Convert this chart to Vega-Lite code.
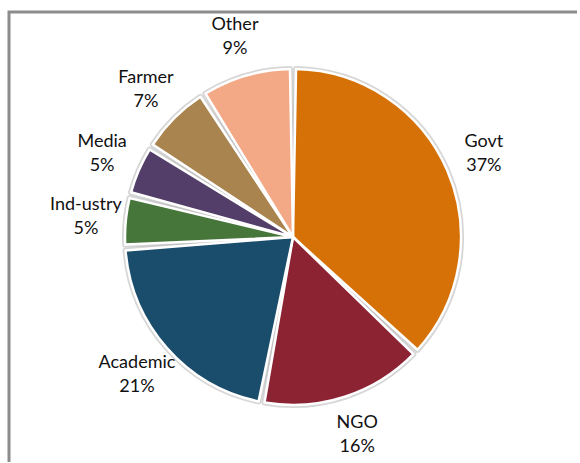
{
  "$schema": "https://vega.github.io/schema/vega-lite/v6.json",
  "autosize": "none",
  "width": 568,
  "height": 450,
  "padding": {"left": 9, "top": 12, "right": 0, "bottom": 0},
  "background": "white",
  "view": {"stroke": "#8c8c8c", "strokeWidth": 3, "strokeDash": [568, 1018, 470, 0]},
  "config": {
    "text": {"font": "Lato", "fontSize": 18, "fill": "#111111"}
  },
  "data": {
    "values": [
      {"category": "Govt", "share": 0.37, "rank": 1},
      {"category": "NGO", "share": 0.16, "rank": 2},
      {"category": "Academic", "share": 0.21, "rank": 3},
      {"category": "Ind-ustry", "share": 0.05, "rank": 4},
      {"category": "Media", "share": 0.05, "rank": 5},
      {"category": "Farmer", "share": 0.07, "rank": 6},
      {"category": "Other", "share": 0.09, "rank": 7}
    ]
  },
  "encoding": {
    "theta": {"field": "share", "type": "quantitative", "stack": true},
    "order": {"field": "rank", "type": "quantitative"}
  },
  "layer": [
    {
      "mark": {"type": "arc", "outerRadius": 168, "padAngle": 0.036, "stroke": "#b5b5b5", "strokeWidth": 6, "strokeOpacity": 0.55, "strokeJoin": "round"},
      "encoding": {
        "color": {
          "field": "category", "type": "nominal", "legend": null,
          "scale": {
            "domain": ["Govt", "NGO", "Academic", "Ind-ustry", "Media", "Farmer", "Other"],
            "range": ["#D57107", "#8C2332", "#1A4D6C", "#46763A", "#533D69", "#A9844E", "#F3A886"]
          }
        }
      }
    },
    {
      "mark": {"type": "arc", "outerRadius": 168, "padAngle": 0.036, "stroke": "white", "strokeWidth": 2.5, "strokeJoin": "round"},
      "encoding": {
        "color": {"field": "category", "type": "nominal", "legend": null}
      }
    },
    {
      "mark": {"type": "text", "radius": 208, "dy": -12},
      "encoding": {"text": {"field": "category", "type": "nominal"}}
    },
    {
      "mark": {"type": "text", "radius": 208, "dy": 12},
      "encoding": {"text": {"field": "share", "type": "quantitative", "format": ".0%"}}
    }
  ]
}
